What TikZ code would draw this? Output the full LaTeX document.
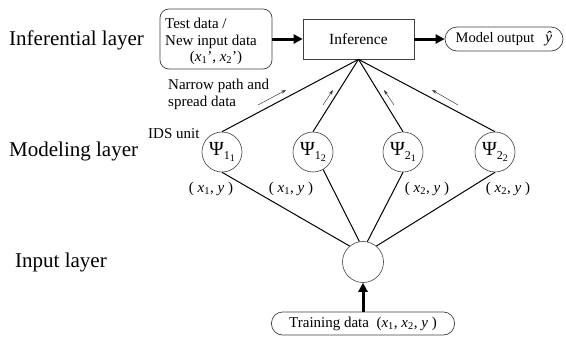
\documentclass[tikz,border=0pt]{standalone}
\usepackage{fontspec}
\setmainfont{Liberation Serif}
\usetikzlibrary{arrows.meta}
\newcommand{\xvar}[1]{\textit{x}\textsubscript{#1}}
\newcommand{\psiu}[2]{{\fontsize{20}{22}\selectfont Ψ}\raisebox{-3.5pt}{\fontsize{12}{12}\selectfont #1\raisebox{-2.5pt}{\fontsize{10}{10}\selectfont #2}}}
\begin{document}
\begin{tikzpicture}[x=1pt,y=-1pt,
  layerlbl/.style={font=\fontsize{21}{24}\selectfont, anchor=base west, inner sep=0},
  small/.style={font=\fontsize{15}{17}\selectfont, inner sep=0},
  unitc/.style={circle, draw=black!75, line width=0.6pt, minimum size=40pt, inner sep=0},
  bigarrow/.style={line width=3pt, -{Triangle[length=9pt,width=9pt]}},
  link/.style={line width=1pt},
  flow/.style={line width=0.5pt, draw=black!75, -{Stealth[length=5pt,width=3.5pt]}},
  boxline/.style={draw=black!75, line width=0.7pt}
]
\useasboundingbox (0,0) rectangle (566,338);

% layer labels
\node[layerlbl] (lInf) at (9,45) {Inferential layer};
\node[layerlbl] (lMod) at (9,156) {Modeling layer};
\node[layerlbl] (lIn) at (15,267) {Input layer};

% test data box
\node[boxline, rounded corners=9pt, minimum width=112pt, minimum height=60pt, inner sep=0] (test) at (216,39) {};
\node[small, anchor=base west] (t1) at (165,28) {Test data /};
\node[small, anchor=base west] (t2) at (165,45) {New input data};
\node[small, anchor=base] (t3) at (216,61) {(\xvar{1}', \xvar{2}')};

% inference
\node[boxline, minimum width=111pt, minimum height=40pt, inner sep=0, font=\fontsize{15.5}{17}\selectfont] (inf) at (358.5,39) {Inference};

% model output
\node[boxline, rounded corners=12pt, minimum width=118pt, minimum height=24pt, inner sep=0, font=\fontsize{14.5}{17}\selectfont] (out) at (504,39) {Model output\ \ \ {\fontsize{16}{17}\selectfont\textit{ŷ}}};

% arrows top
\draw[bigarrow] (test.east) -- (inf.west);
\draw[bigarrow] (inf.east) -- (out.west);

% narrow path text
\node[small, anchor=base west] (np1) at (168,89) {Narrow path and};
\node[small, anchor=base west] (np2) at (168,106) {spread data};
\node[small, anchor=base west] (ids) at (148,138) {IDS unit};

% units
\node[unitc] (p11) at (222,152) {\psiu{1}{1}};
\node[unitc] (p12) at (313,152) {\psiu{1}{2}};
\node[unitc] (p21) at (403,152) {\psiu{2}{1}};
\node[unitc] (p22) at (495,152) {\psiu{2}{2}};

% input unit
\node[unitc, minimum size=41pt] (in) at (363,262) {};

% links
\draw[link] (inf.south) -- (p11.north);
\draw[link] (inf.south) -- (p12.north);
\draw[link] (inf.south) -- (p21.north);
\draw[link] (inf.south) -- (p22.north);
\draw[link] (p11.south) -- (in.130);
\draw[link] (p12.300) -- (in.100);
\draw[link] (p21.south) -- (in.78);
\draw[link] (p22.south) -- (in.50);

% flow arrows
\coordinate (f1s) at (258,105); \coordinate (f1e) at (286,90);
\coordinate (f2s) at (323,105); \coordinate (f2e) at (333,90);
\coordinate (f3s) at (394,105); \coordinate (f3e) at (384,90);
\coordinate (f4s) at (458,105); \coordinate (f4e) at (432,90);
\draw[flow] (f1s) -- (f1e);
\draw[flow] (f2s) -- (f2e);
\draw[flow] (f3s) -- (f3e);
\draw[flow] (f4s) -- (f4e);

% pair labels
\node[small, anchor=base] (a1) at (211,192) {( \xvar{1}, \textit{y} )};
\node[small, anchor=base] (a2) at (291,192) {( \xvar{1}, \textit{y} )};
\node[small, anchor=base] (a3) at (427,192) {( \xvar{2}, \textit{y} )};
\node[small, anchor=base] (a4) at (508,192) {( \xvar{2}, \textit{y} )};

% training data
\node[boxline, rounded corners=11pt, minimum width=183pt, minimum height=23pt, inner sep=0, font=\fontsize{15}{17}\selectfont] (train) at (363,323.5) {Training data\ \ (\xvar{1}, \xvar{2}, \textit{y} )};
\draw[bigarrow] (train.north) -- (in.south);
\end{tikzpicture}
\end{document}
